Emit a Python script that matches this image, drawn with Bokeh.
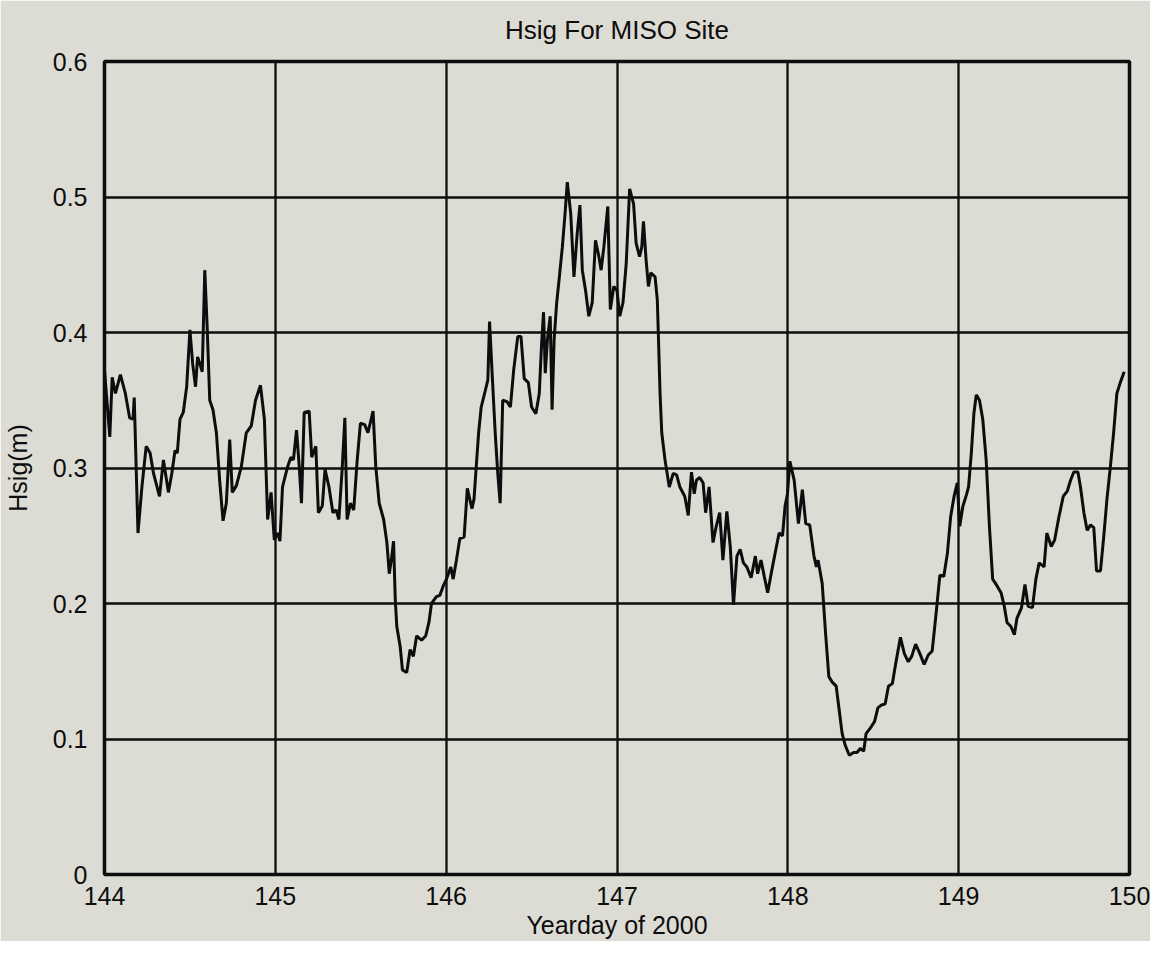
from bokeh.plotting import figure
from bokeh.models import FixedTicker, Range1d
from bokeh.embed import file_html
from bokeh.resources import INLINE

# Yearday of 2000 (x) and significant wave height in metres (y)
yearday = [
    144.000, 144.031, 144.045, 144.064, 144.093, 144.122, 144.147, 144.167, 144.174, 144.196,
    144.219, 144.244, 144.267, 144.287, 144.322, 144.345, 144.374, 144.394, 144.413, 144.426,
    144.442, 144.461, 144.481, 144.500, 144.516, 144.533, 144.545, 144.558, 144.572, 144.587,
    144.601, 144.616, 144.635, 144.655, 144.674, 144.694, 144.713, 144.733, 144.748, 144.772,
    144.801, 144.830, 144.859, 144.884, 144.913, 144.936, 144.955, 144.975, 144.994, 145.013,
    145.027, 145.042, 145.072, 145.091, 145.106, 145.124, 145.140, 145.153, 145.169, 145.198,
    145.213, 145.237, 145.252, 145.275, 145.291, 145.314, 145.337, 145.356, 145.372, 145.391,
    145.407, 145.420, 145.440, 145.459, 145.478, 145.498, 145.523, 145.542, 145.572, 145.588,
    145.608, 145.634, 145.653, 145.667, 145.682, 145.692, 145.702, 145.711, 145.731, 145.744,
    145.769, 145.789, 145.808, 145.827, 145.856, 145.880, 145.899, 145.914, 145.943, 145.963,
    145.983, 146.002, 146.027, 146.041, 146.060, 146.080, 146.105, 146.124, 146.138, 146.151,
    146.163, 146.176, 146.190, 146.205, 146.225, 146.244, 146.254, 146.267, 146.287, 146.302,
    146.316, 146.331, 146.356, 146.376, 146.395, 146.419, 146.438, 146.457, 146.481, 146.500,
    146.525, 146.545, 146.558, 146.570, 146.580, 146.593, 146.609, 146.620, 146.632, 146.647,
    146.661, 146.680, 146.696, 146.709, 146.729, 146.748, 146.767, 146.783, 146.797, 146.816,
    146.835, 146.855, 146.874, 146.894, 146.907, 146.923, 146.946, 146.961, 146.981, 147.000,
    147.016, 147.035, 147.054, 147.074, 147.097, 147.112, 147.132, 147.145, 147.155, 147.170,
    147.184, 147.198, 147.223, 147.236, 147.242, 147.252, 147.262, 147.281, 147.306, 147.329,
    147.349, 147.368, 147.397, 147.417, 147.436, 147.452, 147.465, 147.484, 147.504, 147.519,
    147.539, 147.562, 147.581, 147.601, 147.620, 147.643, 147.663, 147.682, 147.702, 147.721,
    147.740, 147.760, 147.785, 147.810, 147.823, 147.843, 147.862, 147.882, 147.907, 147.930,
    147.949, 147.969, 147.984, 147.998, 148.012, 148.037, 148.062, 148.085, 148.105, 148.128,
    148.153, 148.167, 148.177, 148.201, 148.221, 148.240, 148.260, 148.283, 148.298, 148.318,
    148.337, 148.360, 148.385, 148.405, 148.424, 148.444, 148.458, 148.488, 148.508, 148.527,
    148.547, 148.570, 148.589, 148.612, 148.632, 148.659, 148.682, 148.705, 148.725, 148.748,
    148.773, 148.798, 148.822, 148.845, 148.860, 148.876, 148.890, 148.913, 148.934, 148.953,
    148.973, 148.992, 149.006, 149.025, 149.045, 149.058, 149.074, 149.089, 149.103, 149.122,
    149.141, 149.161, 149.180, 149.199, 149.225, 149.248, 149.267, 149.283, 149.306, 149.326,
    149.341, 149.368, 149.388, 149.407, 149.432, 149.452, 149.471, 149.500, 149.516, 149.542,
    149.562, 149.587, 149.612, 149.636, 149.655, 149.674, 149.698, 149.713, 149.733, 149.752,
    149.772, 149.791, 149.807, 149.830, 149.849, 149.868, 149.888, 149.907, 149.926, 149.946,
    149.969,
]
hsig = [
    0.372, 0.323, 0.367, 0.355, 0.369, 0.355, 0.337, 0.336, 0.352, 0.252,
    0.286, 0.316, 0.311, 0.296, 0.279, 0.306, 0.282, 0.296, 0.313, 0.311,
    0.336, 0.341, 0.360, 0.402, 0.377, 0.360, 0.382, 0.377, 0.371, 0.446,
    0.404, 0.350, 0.343, 0.326, 0.291, 0.261, 0.274, 0.321, 0.282, 0.287,
    0.301, 0.326, 0.331, 0.350, 0.361, 0.336, 0.262, 0.282, 0.247, 0.252,
    0.246, 0.286, 0.301, 0.308, 0.306, 0.328, 0.301, 0.274, 0.341, 0.342,
    0.308, 0.316, 0.267, 0.272, 0.299, 0.286, 0.267, 0.269, 0.262, 0.299,
    0.337, 0.262, 0.274, 0.269, 0.304, 0.333, 0.332, 0.326, 0.342, 0.301,
    0.274, 0.262, 0.245, 0.222, 0.235, 0.246, 0.203, 0.183, 0.168, 0.151,
    0.149, 0.166, 0.161, 0.176, 0.173, 0.176, 0.186, 0.200, 0.205, 0.206,
    0.213, 0.218, 0.227, 0.218, 0.232, 0.248, 0.249, 0.285, 0.277, 0.270,
    0.277, 0.301, 0.326, 0.345, 0.355, 0.365, 0.408, 0.375, 0.326, 0.296,
    0.274, 0.350, 0.349, 0.345, 0.372, 0.397, 0.397, 0.366, 0.363, 0.345,
    0.340, 0.355, 0.390, 0.415, 0.370, 0.395, 0.412, 0.343, 0.395, 0.422,
    0.439, 0.463, 0.488, 0.511, 0.488, 0.441, 0.473, 0.494, 0.446, 0.431,
    0.412, 0.422, 0.468, 0.456, 0.446, 0.463, 0.493, 0.417, 0.434, 0.431,
    0.412, 0.422, 0.451, 0.506, 0.495, 0.466, 0.456, 0.463, 0.482, 0.454,
    0.434, 0.444, 0.441, 0.424, 0.399, 0.355, 0.326, 0.306, 0.286, 0.296,
    0.295, 0.286, 0.279, 0.265, 0.297, 0.281, 0.291, 0.293, 0.289, 0.267,
    0.286, 0.245, 0.257, 0.267, 0.232, 0.268, 0.242, 0.199, 0.235, 0.240,
    0.230, 0.227, 0.219, 0.235, 0.222, 0.232, 0.220, 0.208, 0.225, 0.240,
    0.252, 0.250, 0.272, 0.281, 0.305, 0.291, 0.259, 0.284, 0.259, 0.258,
    0.235, 0.227, 0.232, 0.215, 0.178, 0.146, 0.142, 0.139, 0.124, 0.104,
    0.095, 0.088, 0.090, 0.090, 0.093, 0.091, 0.104, 0.109, 0.113, 0.123,
    0.125, 0.126, 0.139, 0.141, 0.156, 0.175, 0.163, 0.157, 0.161, 0.170,
    0.163, 0.155, 0.162, 0.165, 0.183, 0.203, 0.221, 0.220, 0.237, 0.264,
    0.279, 0.289, 0.257, 0.272, 0.280, 0.286, 0.311, 0.340, 0.354, 0.350,
    0.336, 0.306, 0.257, 0.218, 0.213, 0.208, 0.198, 0.186, 0.183, 0.177,
    0.189, 0.197, 0.214, 0.198, 0.197, 0.218, 0.230, 0.227, 0.252, 0.242,
    0.247, 0.264, 0.279, 0.283, 0.291, 0.297, 0.297, 0.286, 0.267, 0.254,
    0.258, 0.256, 0.224, 0.224, 0.249, 0.277, 0.301, 0.326, 0.355, 0.363,
    0.371,
]

x_ticks = [144, 145, 146, 147, 148, 149, 150]
y_ticks = [0, 0.1, 0.2, 0.3, 0.4, 0.5, 0.6]
y_tick_labels = ["0", "0.1", "0.2", "0.3", "0.4", "0.5", "0.6"]

BG = "#dddcd4"
INK = "#0d0d0d"
FONT = "Liberation Sans"

p = figure(
    width=1150, height=941,
    output_backend="svg", toolbar_location=None,
    x_range=Range1d(144, 150), y_range=Range1d(0, 0.6),
    title="Hsig For MISO Site",
    x_axis_label="Yearday of 2000", y_axis_label="Hsig(m)",
    min_border_left=104, min_border_right=21, min_border_top=61, min_border_bottom=66,
    background_fill_color=BG, border_fill_color=BG,
)

p.title.align = "center"
p.title.vertical_align = "top"
p.title.text_font = FONT
p.title.text_font_size = "26px"
p.title.text_font_style = "normal"
p.title.text_color = INK
p.title.standoff = 29

p.xaxis.ticker = FixedTicker(ticks=x_ticks)
p.yaxis.ticker = FixedTicker(ticks=y_ticks)
p.yaxis.major_label_overrides = {t: l for t, l in zip(y_ticks, y_tick_labels)}

for ax in (p.xaxis, p.yaxis):
    ax.axis_line_color = None
    ax.major_tick_line_color = None
    ax.minor_tick_line_color = None
    ax.major_label_text_font = FONT
    ax.major_label_text_font_size = "25px"
    ax.major_label_text_color = INK
    ax.axis_label_text_font = FONT
    ax.axis_label_text_font_size = "25px"
    ax.axis_label_text_font_style = "normal"
    ax.axis_label_text_color = INK

p.xaxis.major_label_standoff = 6
p.xaxis.axis_label_standoff = 3
p.yaxis.major_label_standoff = 11
p.yaxis.axis_label_standoff = 18

p.xgrid.grid_line_color = INK
p.xgrid.grid_line_width = 2.3
p.ygrid.grid_line_color = INK
p.ygrid.grid_line_width = 2.3

p.outline_line_color = INK
p.outline_line_width = 3.5

p.line(yearday, hsig, line_color=INK, line_width=3)

open("out.html", "w").write(file_html(p, INLINE))
